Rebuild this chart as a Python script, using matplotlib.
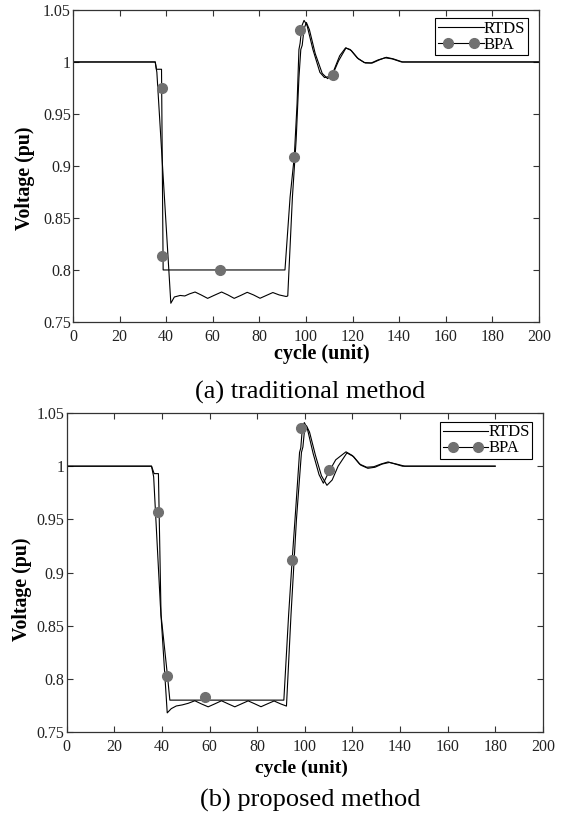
import numpy as np
import matplotlib.pyplot as plt
from matplotlib.lines import Line2D
from matplotlib.legend_handler import HandlerLine2DCompound

# ---- panel (a): traditional method ----
rtds_a_x = [0, 35.3, 36.0, 42.0, 43.5, 46, 48, 50, 52.4, 55, 57.8, 60.5, 63.8, 66.5, 69.2,
            72, 74.8, 77.5, 80.3, 83, 85.8, 88.5, 91.5, 92.2, 94.2, 95.8, 97.0, 97.8, 98.4,
            99.2, 100.2, 101.5, 104, 107, 109.3, 111.5, 114, 117.2, 119.5, 122.5, 125.5,
            128.5, 131.5, 134.5, 137.5, 141.5, 200]
rtds_a_y = [1.0, 1.0, 0.990, 0.768, 0.774, 0.7755, 0.775, 0.777, 0.7788, 0.776, 0.7727, 0.7755,
            0.7788, 0.776, 0.7727, 0.7755, 0.7785, 0.776, 0.7728, 0.7755, 0.7783, 0.776, 0.7745,
            0.775, 0.87, 0.925, 0.985, 1.012, 1.016, 1.032, 1.038, 1.031, 1.008, 0.989, 0.984,
            0.988, 1.001, 1.0135, 1.011, 1.003, 0.999, 0.999, 1.002, 1.0045, 1.003, 1.0, 1.0]
bpa_a_x = [0, 35.3, 35.8, 38.0, 38.7, 91.0, 93.2, 95.0, 96.2, 97.0, 97.5, 98.3, 99.2, 100.5,
           103, 106, 108, 110, 112, 114.5, 117, 119, 122, 125, 128, 131, 134, 137, 141, 200]
bpa_a_y = [1.0, 1.0, 0.993, 0.993, 0.80, 0.80, 0.87, 0.909, 0.96, 1.012, 1.018, 1.035, 1.040,
           1.035, 1.012, 0.990, 0.985, 0.986, 0.992, 1.006, 1.0135, 1.012, 1.004, 0.9995,
           0.999, 1.002, 1.004, 1.003, 1.0, 1.0]
mark_a_x = [38.0, 38.0, 63.0, 95.0, 97.4, 111.7]
mark_a_y = [0.975, 0.813, 0.800, 0.909, 1.031, 0.987]

# ---- panel (b): proposed method ----
rtds_b_x = [0, 35.6, 36.5, 39.3, 42.2, 43.9, 46, 48.5, 51, 53.8, 56.5, 59.4, 62.2, 65.0, 67.8,
            70.6, 73.4, 76.2, 79, 81.6, 84.3, 87.1, 89.8, 92.3, 94.2, 96.5, 98.6, 99.2, 99.8,
            100.7, 102, 104.5, 107, 109.3, 111.5, 114, 117.7, 120.5, 123.5, 126.5, 129.5,
            132.5, 135.5, 138.5, 142, 180]
rtds_b_y = [1.0, 1.0, 0.99, 0.870, 0.768, 0.772, 0.7745, 0.7755, 0.777, 0.7794, 0.7765, 0.7737,
            0.7765, 0.7794, 0.7765, 0.7737, 0.7765, 0.7793, 0.7765, 0.7738, 0.7765, 0.7792,
            0.7765, 0.7744, 0.86, 0.95, 1.013, 1.018, 1.032, 1.038, 1.032, 1.01, 0.991, 0.982,
            0.987, 1.0, 1.0125, 1.009, 1.001, 0.998, 0.999, 1.002, 1.0035, 1.002, 1.0, 1.0]
bpa_b_x = [0, 35.6, 36.7, 38.5, 39.6, 42.3, 43.3, 91.2, 93.2, 94.7, 96.2, 97.8, 98.3, 99.0,
           99.8, 101, 103.5, 106, 107.8, 110.2, 113, 117.3, 120, 123, 126, 129, 132, 135,
           138, 141, 180]
bpa_b_y = [1.0, 1.0, 0.993, 0.993, 0.86, 0.803, 0.780, 0.780, 0.86, 0.912, 0.96, 1.013, 1.017,
           1.036, 1.041, 1.036, 1.012, 0.992, 0.984, 0.995, 1.006, 1.0135, 1.010, 1.002,
           0.999, 0.9995, 1.002, 1.004, 1.002, 1.0, 1.0]
mark_b_x = [38.3, 42.3, 58.0, 94.7, 98.6, 110.2]
mark_b_y = [0.957, 0.803, 0.783, 0.912, 1.0356, 0.996]

captions = ['(a) traditional method', '(b) proposed method']
xticks = np.arange(0, 201, 20)
yticks = [0.75, 0.8, 0.85, 0.9, 0.95, 1.0, 1.05]
ytick_labels = ['0.75', '0.8', '0.85', '0.9', '0.95', '1', '1.05']

plt.rcParams['font.family'] = 'Liberation Serif'
gray = '#707070'


class FullLineHandler(HandlerLine2DCompound):
    # matlab-style legend entry: line runs the full handle width, markers inset
    def create_artists(self, legend, orig_handle, xdescent, ydescent, width, height,
                       fontsize, trans):
        arts = super().create_artists(legend, orig_handle, xdescent, ydescent, width,
                                      height, fontsize, trans)
        yc = (height - ydescent) / 2
        arts[0].set_data([-xdescent, width - xdescent], [yc, yc])
        return arts


fig = plt.figure(figsize=(5.66, 8.18), dpi=100)
ax_a = fig.add_axes([0.129, 0.6064, 0.823, 0.3814])
ax_b = fig.add_axes([0.118, 0.1051, 0.841, 0.390])

panels = [
    (ax_a, rtds_a_x, rtds_a_y, bpa_a_x, bpa_a_y, mark_a_x, mark_a_y,
     (0.534, -0.103), (-0.103, 0.4615), (0.976, 0.973), 392, 14.5),
    (ax_b, rtds_b_x, rtds_b_y, bpa_b_x, bpa_b_y, mark_b_x, mark_b_y,
     (0.493, -0.113), (-0.0935, 0.448), (0.978, 0.972), 800, 14),
]

for i, (ax, rx, ry, bx, by, mx, my, xl, yl, leg_pos, cap_y, lab_fs) in enumerate(panels):
    ax.plot(rx, ry, color='black', lw=0.8)
    ax.plot(bx, by, color='black', lw=0.8)
    ax.plot(mx, my, ls='none', marker='o', ms=7, mfc=gray, mec=gray)

    ax.set_xlim(0, 200)
    ax.set_ylim(0.75, 1.05)
    ax.set_xticks(xticks)
    ax.set_yticks(yticks)
    ax.set_yticklabels(ytick_labels)
    ax.tick_params(direction='in', top=True, right=True, length=4, width=0.8,
                   colors='#333333', labelcolor='#222222', labelsize=11.5)
    ax.tick_params(axis='x', pad=5)
    ax.tick_params(axis='y', pad=1.5)
    for sp in ax.spines.values():
        sp.set_color('#333333')
        sp.set_linewidth(0.9)

    ax.set_xlabel('cycle (unit)', fontsize=lab_fs, fontweight='bold', va='center')
    ax.xaxis.set_label_coords(*xl)
    ax.set_ylabel('Voltage (pu)', fontsize=14.3, fontweight='bold', va='center')
    ax.yaxis.set_label_coords(*yl)

    handles = [Line2D([], [], color='black', lw=0.8),
               Line2D([], [], color='black', lw=0.8, marker='o', ms=7, mfc=gray, mec=gray)]
    leg = ax.legend(handles, ['RTDS', 'BPA'], loc='upper right', bbox_to_anchor=leg_pos,
                    borderaxespad=0, numpoints=2, fontsize=12, handlelength=2.75,
                    handletextpad=0.0, labelspacing=0.0, borderpad=0.15,
                    fancybox=False, framealpha=1,
                    handler_map={Line2D: FullLineHandler(marker_pad=0.6)})
    leg.get_frame().set_edgecolor('black')
    leg.get_frame().set_linewidth(0.8)

    fig.text(310 / 566, 1 - cap_y / 818, captions[i], fontsize=19,
             ha='center', va='center')

fig.savefig('out.png', dpi=100)
